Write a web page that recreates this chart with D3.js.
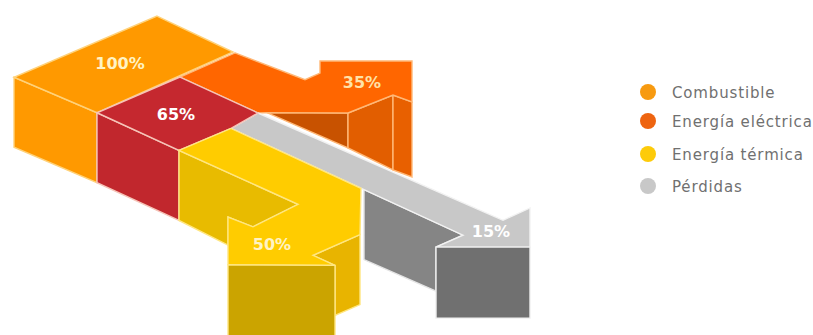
<!DOCTYPE html>
<html>
<head>
<meta charset="utf-8">
<script src="https://cdn.jsdelivr.net/npm/d3@7"></script>
<style>
  html, body { margin: 0; padding: 0; background: #fff; }
  svg { display: block; }
  text { font-family: "DejaVu Sans", sans-serif; }
</style>
</head>
<body>
<svg id="chart" width="813" height="335"></svg>
<script>
// Energy balance of a cogeneration plant, drawn as an isometric flow diagram.
const categories = ["Combustible", "Energía eléctrica", "Energía térmica", "Pérdidas"];
const legendColors = ["#f79a10", "#ee6410", "#fdcb0a", "#c8c8c8"];
const fuel = 100;
const electricity = 35;
const heat = 50;
const losses = 15;
const remainder = fuel - electricity;

const svg = d3.select("#chart");

// Isometric projection: a runs down-right, b runs down-left, z drops vertically.
const sx = d3.scaleLinear().domain([0, 1]).range([233, 234]);
const sy = d3.scaleLinear().domain([0, 1]).range([52, 53]);
const project = ([a, b, z = 0]) => [sx(a - b), sy(0.46 * a + 0.44 * b + z)];
const outline = d3.line().x(d => project(d)[0]).y(d => project(d)[1]).curve(d3.curveLinearClosed);

// Flows stack across the width of the fuel band: electricity, losses, heat.
const stackEdges = [0, ...d3.cumsum([electricity, losses, heat])];
const band = d3.scaleLinear().domain(stackEdges).range([0, 55, 86, 137]);
const bE = band(electricity);
const bL = band(electricity + losses);
const bH = band(electricity + losses + heat);

// Drop of the block walls, in projected pixels.
const H = 70;

const shapes = [
  // Fuel block
  { fill: "#ff9900", edge: "#ffd27a", pts: [[-79, bH + 3], [1, bH], [1, bH, H], [-79, bH + 3, H]] },
  { fill: "#ff9900", edge: "#ffd27a", pts: [[-77, -1], [0, 0], [1, bH], [-79, bH + 3]] },

  // Electricity arm, its walls come first so that the top sits over them
  { fill: "#c85200", edge: "#ffb877", pts: [[84, bE - 5], [124, 9], [124, 9, 35]] },
  { fill: "#e25e00", edge: "#ffb877", pts: [[124, 9], [126, -34], [126, -34, 75], [124, 9, 35]] },
  { fill: "#e86000", edge: "#ffb877", pts: [[126, -34], [143, -36], [143, -36, 75], [126, -34, 75]] },
  { fill: "#ff6600", edge: "#ffb877", pts: [[2, 0], [66, -6], [66, -21], [52.5, -34.5], [97.5, -81.5],
      [143, -36], [126, -34], [124, 9], [84, bE - 5], [80, bE], [2, bE]] },

  // Red section left after the electricity leaves
  { fill: "#c1272d", edge: "#f6c4b8", pts: [[1, bH], [83, bH], [83, bH, H], [1, bH, H]] },

  // Losses arm
  { fill: "#858585", edge: "#e4e4e4", pts: [[217, bL], [316, bL], [316, 113], [316, 113, 44], [217, bL, H]] },
  { fill: "#c8c8c8", edge: "#f2f2f2", pts: [[80, bE], [319, 49], [318.5, 21.5], [362, 65], [316, 113], [316, bL], [84, bL]] },
  { fill: "#707070", edge: "#efefef", pts: [[316, 113], [362, 65], [362, 65, 71], [316, 113, 71]] },

  // Red top, painted over the start of the two arms
  { fill: "#c5282f", edge: "#f6c4b8", pts: [[2, bE], [80, bE], [84, bL], [83, bH], [1, bH]] },

  // Heat arm
  { fill: "#e8bb00", edge: "#ffe680", pts: [[83, bH], [201, 136], [204, 184], [181, 186], [181, 186, 28], [83, bH, H]] },
  { fill: "#e8b400", edge: "#ffe680", pts: [[265, 138], [265, 185], [287, 185], [287, 185, 50], [265, 138, 70]] },
  { fill: "#ffcc00", edge: "#ffe680", pts: [[83, bH], [84, bL], [214, bL], [265, 138], [265, 185], [287, 185],
      [234, 239], [181, 186], [204, 184], [201, 136]] },
  { fill: "#cba400", edge: "#ffe680", pts: [[287, 185], [234, 239], [234, 239, 75], [287, 185, 75]] }
];

svg.append("g").selectAll("path").data(shapes).join("path")
  .attr("d", d => outline(d.pts))
  .attr("fill", d => d.fill)
  .attr("stroke", d => d.edge)
  .attr("stroke-width", 1.4)
  .attr("stroke-linejoin", "miter");

// Percentage labels sitting on the top faces
const flowValues = [fuel, remainder, electricity, heat, losses];
const flowAnchors = [[-43, 70], [42, 99], [96.5, -32.5], [233.5, 194.5], [326, 68]];
const flowInk = ["#fff3c4", "#ffffff", "#ffe2a8", "#fff3c4", "#ffffff"];

svg.append("g").selectAll("text").data(flowValues).join("text")
  .attr("x", (d, i) => project(flowAnchors[i])[0])
  .attr("y", (d, i) => project(flowAnchors[i])[1])
  .attr("text-anchor", "middle")
  .attr("dominant-baseline", "central")
  .attr("font-size", 16)
  .attr("font-weight", "bold")
  .attr("fill", (d, i) => flowInk[i])
  .text(d => d + "%");

// Legend
const legendRows = [92, 121, 154, 186];
const legend = svg.append("g").selectAll("g").data(categories).join("g")
  .attr("transform", (d, i) => `translate(648,${legendRows[i]})`);
legend.append("circle").attr("r", 8).attr("fill", (d, i) => legendColors[i]);
legend.append("text")
  .attr("x", 24)
  .attr("y", 1)
  .attr("dominant-baseline", "central")
  .attr("font-size", 15)
  .attr("letter-spacing", 0.85)
  .attr("fill", "#707070")
  .text(d => d);
</script>
</body>
</html>
